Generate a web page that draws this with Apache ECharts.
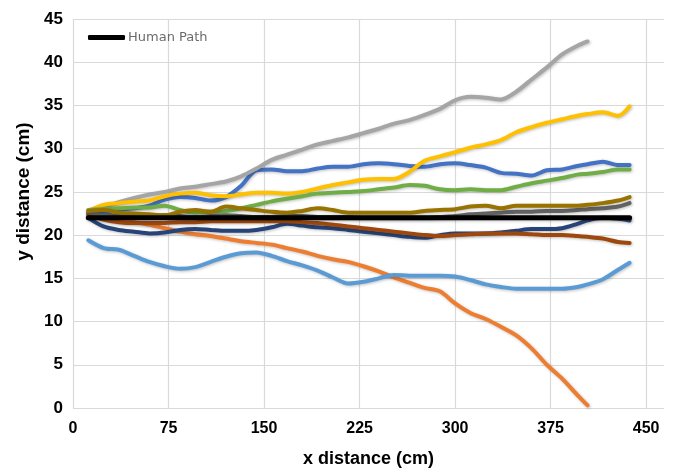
<!DOCTYPE html>
<html>
<head>
<meta charset="utf-8">
<script src="https://cdn.jsdelivr.net/npm/echarts@6/dist/echarts.min.js"></script>
<style>html,body{margin:0;padding:0;background:#fff}#c{width:678px;height:473px}</style>
</head>
<body>
<div id="c"></div>
<script>
// x positions (cm) shared by all paths
var xDist = [12,24,36,48,60,72,84,96,108,120,132,144,156,168,180,192,204,216,228,240,252,264,276,288,300,312,324,336,348,360,372,384,396,404,416,428,437];
var xTicks = [0,75,150,225,300,375,450];
var yTicks = [0,5,10,15,20,25,30,35,40,45];

var pathBlue = [22.3,22.5,22.9,23.1,23.4,24.1,24.4,24.3,24.0,24.4,25.7,27.5,27.6,27.4,27.4,27.7,27.9,27.9,28.2,28.3,28.2,28.0,27.9,28.2,28.3,28.1,27.8,27.2,27.1,26.9,27.5,27.6,28.0,28.2,28.5,28.1,28.1];
var pathOrange = [22.5,22.0,21.7,21.5,21.2,20.8,20.4,20.1,19.9,19.6,19.3,19.1,18.9,18.5,18.1,17.6,17.2,16.9,16.4,15.8,15.1,14.5,13.9,13.5,12.1,11.0,10.3,9.4,8.4,6.9,5.0,3.4,1.5,0.3];
var pathGray = [22.5,23.2,23.8,24.3,24.7,25.0,25.4,25.6,25.9,26.2,26.8,27.7,28.7,29.3,29.9,30.5,30.9,31.3,31.8,32.3,32.9,33.3,33.9,34.6,35.6,36.0,35.9,35.7,36.6,38.0,39.4,40.9,41.9,42.4];
var pathYellow = [22.8,23.5,23.7,23.9,24.0,24.5,24.8,24.9,24.6,24.5,24.7,24.9,24.9,24.8,25.0,25.4,25.8,26.1,26.4,26.5,26.5,27.3,28.6,29.1,29.6,30.1,30.5,31.0,31.9,32.5,33.0,33.4,33.8,34.0,34.2,33.8,34.9];
var pathLightBlue = [19.4,18.5,18.3,17.6,16.9,16.4,16.1,16.3,16.9,17.5,17.9,18.0,17.6,17.0,16.5,15.9,15.1,14.4,14.6,15.0,15.4,15.3,15.3,15.3,15.2,14.8,14.3,14.0,13.8,13.8,13.8,13.8,14.0,14.3,14.9,16.0,16.8];
var pathGreen = [22.9,23.0,23.1,23.2,23.2,23.4,22.9,22.6,22.7,22.8,23.1,23.5,23.9,24.2,24.5,24.8,24.9,25.0,25.1,25.3,25.5,25.8,25.7,25.3,25.2,25.3,25.2,25.2,25.6,26.0,26.3,26.6,27.0,27.1,27.3,27.6,27.6];
var pathDarkBlue = [22.0,21.0,20.6,20.4,20.2,20.3,20.6,20.7,20.6,20.5,20.5,20.6,20.9,21.3,21.1,20.9,20.8,20.6,20.4,20.2,20.0,19.8,19.7,20.0,20.2,20.2,20.2,20.3,20.5,20.7,20.7,20.8,21.3,21.7,22.0,21.9,21.7];
var pathBrown = [22.4,21.8,21.5,21.4,21.4,21.4,21.5,21.5,21.6,21.6,21.6,21.6,21.6,21.6,21.5,21.4,21.2,21.0,20.8,20.6,20.4,20.2,20.0,19.9,20.0,20.1,20.2,20.2,20.2,20.1,20.0,20.0,19.9,19.8,19.6,19.2,19.1];
var pathDarkGray = [22.6,22.3,22.2,22.1,22.2,22.3,22.2,22.1,22.2,22.3,22.2,22.1,22.1,22.2,22.2,22.1,22.1,22.1,22.0,22.0,22.0,22.0,22.0,22.1,22.2,22.4,22.5,22.6,22.7,22.7,22.8,22.8,22.9,23.0,23.1,23.3,23.7];
var pathOlive = [22.8,22.9,22.6,22.5,22.4,22.3,22.7,22.9,22.7,23.3,23.1,22.9,22.7,22.6,22.8,23.1,22.9,22.6,22.6,22.6,22.6,22.6,22.8,22.9,23.0,23.3,23.4,23.1,23.4,23.4,23.4,23.4,23.4,23.5,23.7,24.0,24.4];
var humanPath = [22,22,22,22,22,22,22,22,22,22,22,22,22,22,22,22,22,22,22,22,22,22,22,22,22,22,22,22,22,22,22,22,22,22,22,22,22];

var paths = [
  {name:'Path 1', ys:pathBlue, color:'#4472C4'},
  {name:'Path 2', ys:pathOrange, color:'#ED7D31'},
  {name:'Path 3', ys:pathGray, color:'#A5A5A5'},
  {name:'Path 4', ys:pathYellow, color:'#FFC000'},
  {name:'Path 5', ys:pathLightBlue, color:'#5B9BD5'},
  {name:'Path 6', ys:pathGreen, color:'#70AD47'},
  {name:'Path 7', ys:pathDarkBlue, color:'#264478'},
  {name:'Path 8', ys:pathBrown, color:'#9E480E'},
  {name:'Path 9', ys:pathDarkGray, color:'#636363'},
  {name:'Path 10', ys:pathOlive, color:'#997300'},
  {name:'Human Path', ys:humanPath, color:'#000000', w:5}
];

function pairs(ys){ var d=[]; for (var i=0;i<ys.length;i++) d.push([xDist[i], ys[i]]); return d; }

var series = paths.map(function(p){
  return {
    name: p.name, type:'line', data: pairs(p.ys), showSymbol:false, symbol:'none',
    smooth: 0.3, animation:false,
    lineStyle:{color:p.color, width:p.w||4, cap:'round', join:'round',
      shadowColor:'rgba(0,0,0,0.25)', shadowBlur:3, shadowOffsetX:1, shadowOffsetY:1},
    itemStyle:{color:p.color}
  };
});

var chart = echarts.init(document.getElementById('c'));
chart.setOption({
  backgroundColor:'#fff',
  animation:false,
  grid:{left:73, top:19, right:14, bottom:61},
  legend:{data:[{name:'Human Path', icon:'roundRect'}], left:88, top:31, padding:0, itemWidth:37, itemHeight:5, itemGap:3,
    textStyle:{color:'#6b6b6b', fontSize:13, fontFamily:'DejaVu Sans', padding:[0,0,0,-2]}},
  xAxis:{type:'value', min:0, max:464, interval:75,
    name:'x distance (cm)', nameLocation:'middle', nameGap:42,
    nameTextStyle:{fontFamily:'Liberation Sans', fontWeight:'bold', fontSize:18, color:'#000'},
    axisLine:{show:false}, axisTick:{show:false},
    axisLabel:{margin:13, fontFamily:'Liberation Sans', fontWeight:'bold', fontSize:16, color:'#000', showMaxLabel:false,
      formatter:function(v){ return xTicks.indexOf(v)>=0 ? String(v) : ''; }},
    splitLine:{show:true, showMaxLine:false, lineStyle:{color:'#d9d9d9', width:1.2}}
  },
  yAxis:{type:'value', min:0, max:45, interval:5,
    name:'y distance (cm)', nameLocation:'middle', nameGap:40, nameRotate:90,
    nameTextStyle:{fontFamily:'Liberation Sans', fontWeight:'bold', fontSize:19, color:'#000', padding:[0,0,0,44]},
    axisLine:{show:false}, axisTick:{show:false},
    axisLabel:{margin:10, fontFamily:'Liberation Sans', fontWeight:'bold', fontSize:17, color:'#000',
      formatter:function(v){ return yTicks.indexOf(v)>=0 ? String(v) : ''; }},
    splitLine:{show:true, lineStyle:{color:'#d9d9d9', width:1.2}}
  },
  series: series
});
</script>
</body>
</html>
